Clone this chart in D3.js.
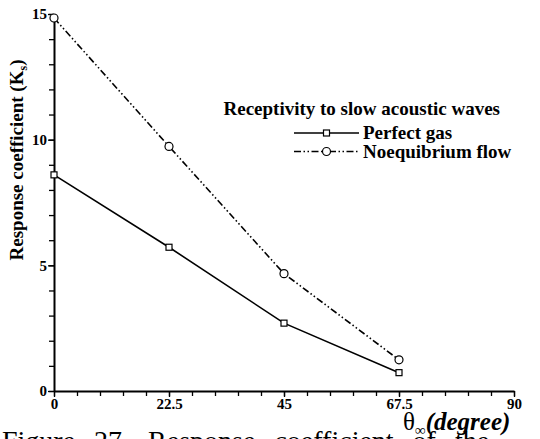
<!DOCTYPE html>
<html>
<head>
<meta charset="utf-8">
<script src="https://cdn.jsdelivr.net/npm/d3@7"></script>
<style>
  body { margin: 0; background: #fff; }
  svg { display: block; }
  text { font-family: "Liberation Serif", "Times New Roman", serif; fill: #000; }
  .tick text { font-weight: bold; font-size: 15px; }
</style>
</head>
<body>
<svg id="chart" width="540" height="439"></svg>
<script>
var angles = [0, 22.5, 45, 67.5];
var perfectGas = [8.6, 5.72, 2.7, 0.73];
var noequilibrium = [14.84, 9.73, 4.67, 1.24];
var xTicks = [0, 22.5, 45, 67.5, 90];
var yTicks = [0, 5, 10, 15];
var seriesNames = ["Perfect gas", "Noequibrium flow"];

var svg = d3.select("#chart");
var x = d3.scaleLinear().domain([0, 90]).range([54, 514]);
var y = d3.scaleLinear().domain([0, 15]).range([391, 14]);

// caption, cut off at the bottom (drawn first so the axis title sits over it)
svg.append("text").attr("x", 2).attr("y", 450).attr("font-size", 28)
  .attr("word-spacing", 12).text("Figure 27.  Response coefficient of the");

// minor ticks
svg.append("g")
  .attr("transform", "translate(0," + y(0) + ")")
  .call(d3.axisBottom(x).tickValues(d3.range(0, 90.1, 4.5)).tickSize(5).tickFormat(""))
  .call(function(g) { g.select(".domain").remove(); });
svg.append("g")
  .attr("transform", "translate(" + x(0) + ",0)")
  .call(d3.axisLeft(y).tickValues(d3.range(0, 15.1, 1)).tickSize(5).tickFormat(""))
  .call(function(g) { g.select(".domain").remove(); });

// major axes
svg.append("g")
  .attr("transform", "translate(0," + y(0) + ")")
  .call(d3.axisBottom(x).tickValues(xTicks).tickSize(6).tickSizeOuter(0).tickPadding(1)
    .tickFormat(function(d) { return d; }));
svg.append("g")
  .attr("transform", "translate(" + x(0) + ",0)")
  .call(d3.axisLeft(y).tickValues(yTicks).tickSize(6).tickSizeOuter(0).tickPadding(1));
svg.selectAll(".domain").attr("stroke-width", 2);
svg.selectAll(".tick line").attr("stroke-width", 1.3);

var line = d3.line()
  .x(function(d, i) { return x(angles[i]); })
  .y(function(d) { return y(d); });

svg.append("path").datum(perfectGas)
  .attr("d", line).attr("fill", "none").attr("stroke", "#000").attr("stroke-width", 1.6);
svg.append("path").datum(noequilibrium)
  .attr("d", line).attr("fill", "none").attr("stroke", "#000").attr("stroke-width", 1.6)
  .attr("stroke-dasharray", "7,2.5,1.5,2.5,1.5,2.5");

svg.selectAll("rect.pg").data(perfectGas).enter().append("rect")
  .attr("class", "pg")
  .attr("x", function(d, i) { return x(angles[i]) - 3; })
  .attr("y", function(d) { return y(d) - 3; })
  .attr("width", 6).attr("height", 6)
  .attr("fill", "#fff").attr("stroke", "#000").attr("stroke-width", 1.2);
svg.selectAll("circle.ne").data(noequilibrium).enter().append("circle")
  .attr("class", "ne")
  .attr("cx", function(d, i) { return x(angles[i]); })
  .attr("cy", function(d) { return y(d); })
  .attr("r", 4)
  .attr("fill", "#fff").attr("stroke", "#000").attr("stroke-width", 1.2);

// legend
svg.append("text").attr("x", 500).attr("y", 115)
  .attr("text-anchor", "end").attr("font-weight", "bold").attr("font-size", 19)
  .text("Receptivity to slow acoustic waves");
var leg = svg.append("g");
seriesNames.forEach(function(name, i) {
  var ly = 133 + i * 18.5;
  leg.append("line").attr("x1", 294).attr("x2", 359).attr("y1", ly).attr("y2", ly)
    .attr("stroke", "#000").attr("stroke-width", 1.6)
    .attr("stroke-dasharray", i === 1 ? "7,2.5,1.5,2.5,1.5,2.5" : null);
  if (i === 0) {
    leg.append("rect").attr("x", 323.5).attr("y", ly - 3).attr("width", 6).attr("height", 6)
      .attr("fill", "#fff").attr("stroke", "#000").attr("stroke-width", 1.2);
  } else {
    leg.append("circle").attr("cx", 326.5).attr("cy", ly).attr("r", 4)
      .attr("fill", "#fff").attr("stroke", "#000").attr("stroke-width", 1.2);
  }
  leg.append("text").attr("x", 363).attr("y", ly + 6)
    .attr("font-weight", "bold").attr("font-size", 19).text(name);
});

// axis titles
var yl = svg.append("text")
  .attr("transform", "translate(23,160) rotate(-90)")
  .attr("text-anchor", "middle").attr("font-weight", "bold").attr("font-size", 19);
yl.append("tspan").text("Response coefficient (K");
yl.append("tspan").attr("font-size", 12).attr("dy", 4).text("s");
yl.append("tspan").attr("dy", -4).text(")");

var xl = svg.append("text").attr("x", 403).attr("y", 430).attr("font-size", 25);
xl.append("tspan").text("θ");
xl.append("tspan").attr("font-size", 15).attr("dy", 5).text("∞");
xl.append("tspan").attr("dy", -5).attr("font-weight", "bold").attr("font-style", "italic")
  .attr("font-size", 25).text("(degree)");
</script>
</body>
</html>
